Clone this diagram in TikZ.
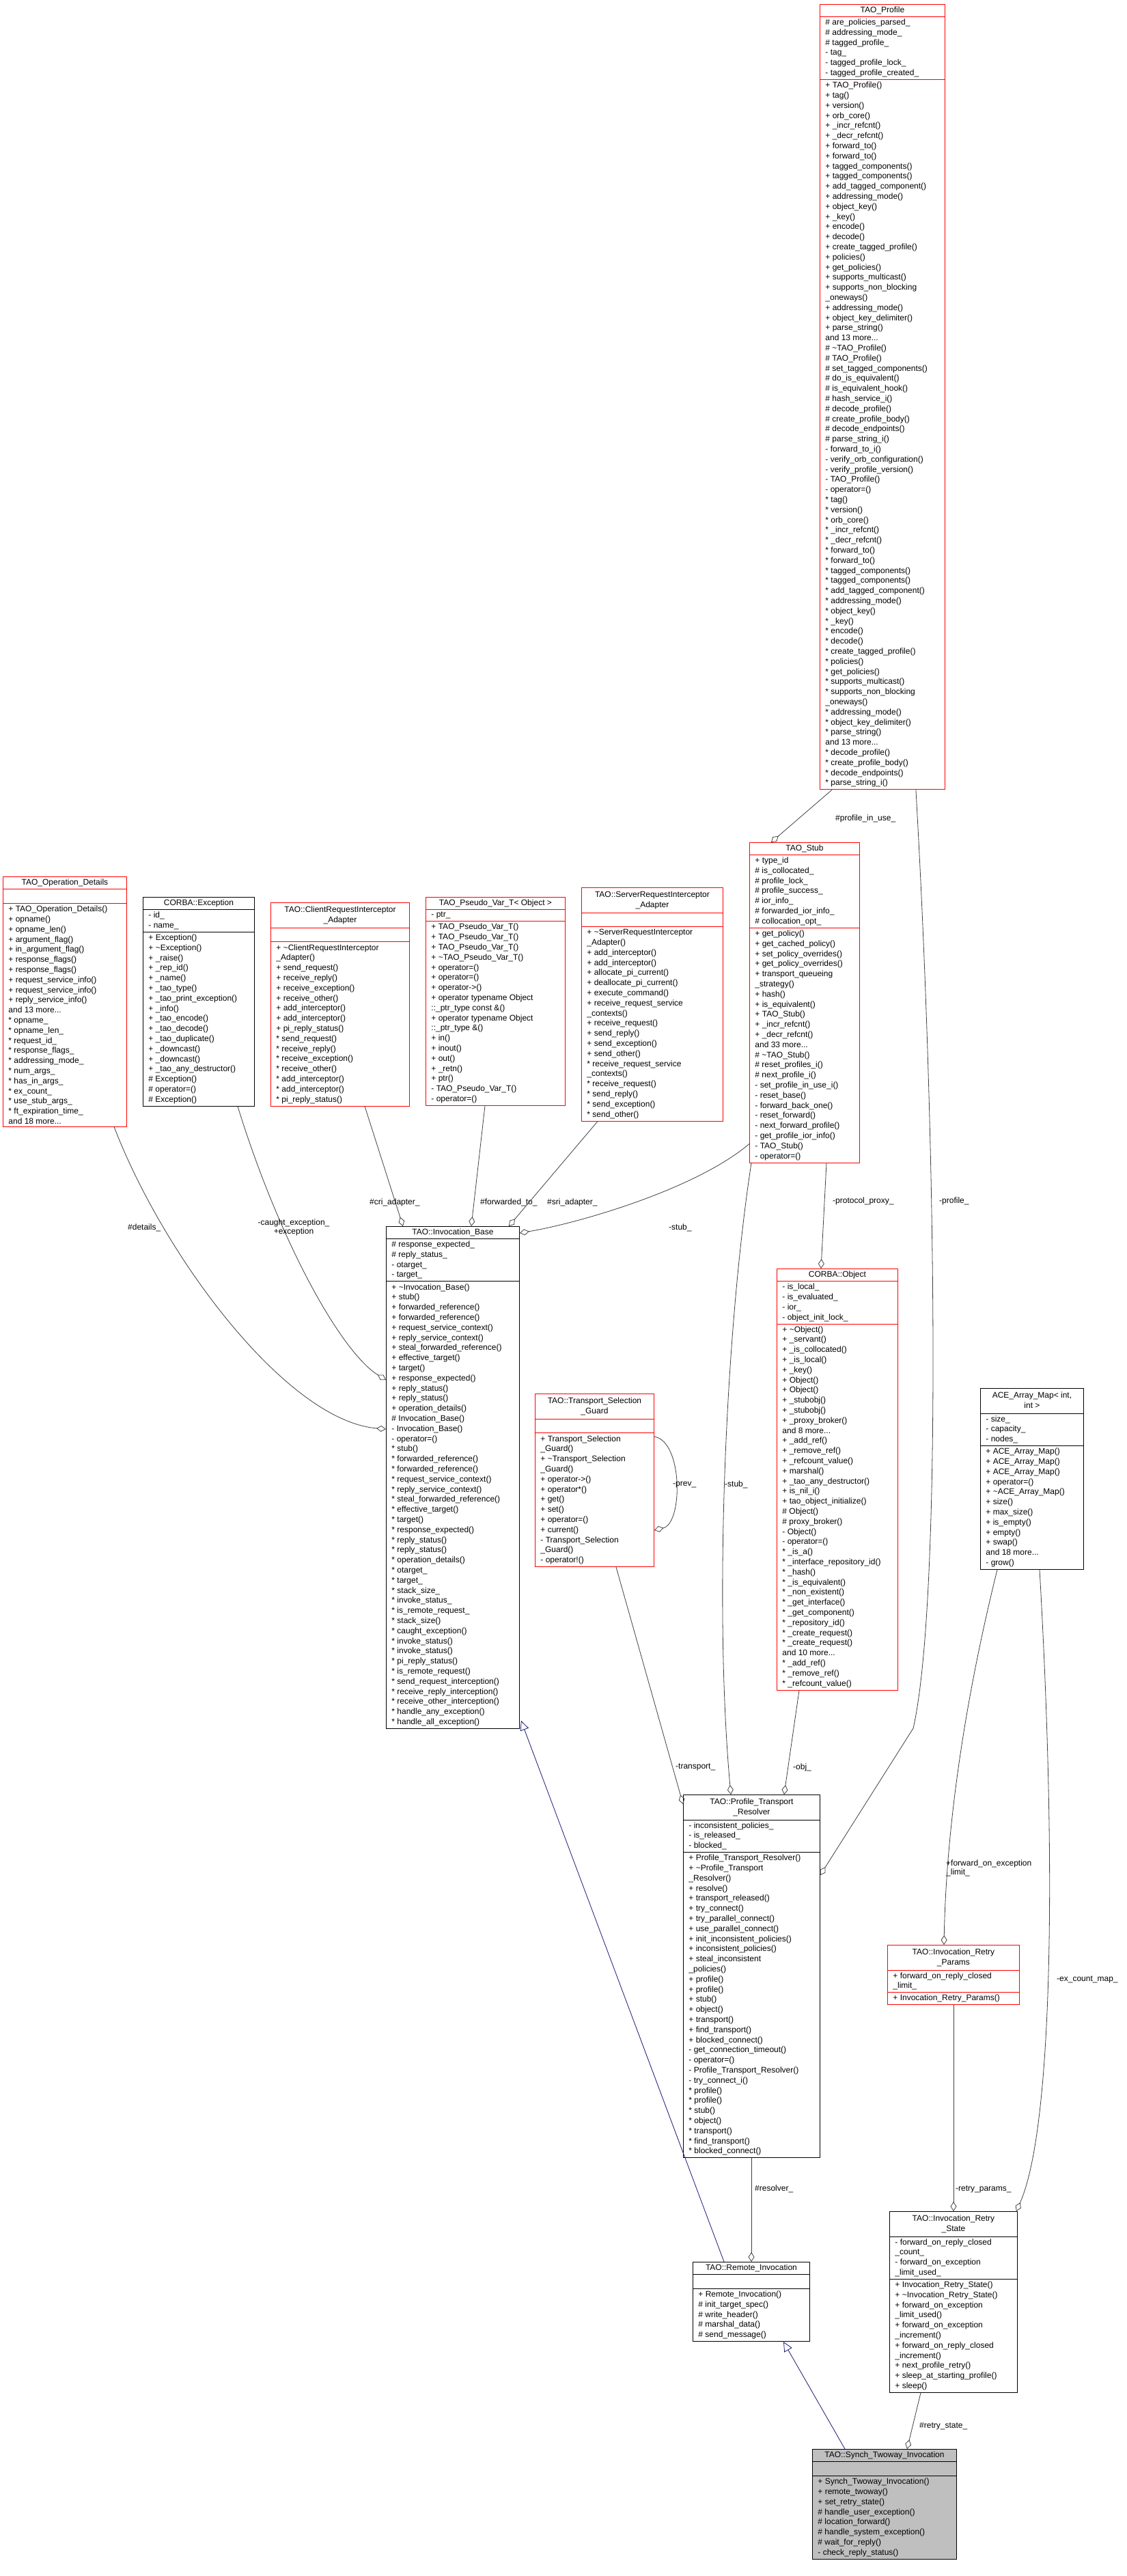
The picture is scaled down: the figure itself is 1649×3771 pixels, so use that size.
\documentclass[tikz,border=0pt]{standalone}
\usepackage{fontspec}
\setmainfont{Liberation Sans}
\usetikzlibrary{shapes.multipart,arrows.meta,calc}

\definecolor{doxred}{RGB}{255,0,0}
\definecolor{doxgray}{RGB}{191,191,191}
\definecolor{doxblue}{RGB}{25,25,112}
\definecolor{linegray}{RGB}{64,64,64}

% two line class titles
\newcommand{\ttl}[1]{\begin{tabular}{@{}c@{}}#1\end{tabular}}
\newcommand{\blank}{\rule{0pt}{14pt}}
\newcommand{\tld}{\textasciitilde{}}

% repeated member lists of TAO_Profile
\newcommand{\proflist}[1]{#1 tag()\\#1 version()\\#1 orb\_core()\\#1 \_incr\_refcnt()\\#1 \_decr\_refcnt()\\#1 forward\_to()\\#1 forward\_to()\\#1 tagged\_components()\\#1 tagged\_components()\\#1 add\_tagged\_component()\\#1 addressing\_mode()\\#1 object\_key()\\#1 \_key()\\#1 encode()\\#1 decode()\\#1 create\_tagged\_profile()\\#1 policies()\\#1 get\_policies()\\#1 supports\_multicast()\\#1 supports\_non\_blocking\\\_oneways()\\#1 addressing\_mode()\\#1 object\_key\_delimiter()\\#1 parse\_string()\\and 13 more...}

\tikzset{
  cls/.style={rectangle split, rectangle split parts=3, draw=black, line width=0.9pt,
    anchor=north west, align=left, rectangle split part align={center,left,left},
    inner xsep=8pt, inner ysep=3pt, font=\fontsize{12}{14.8}\selectfont},
  clsred/.style={cls, draw=doxred},
  clsfocus/.style={cls, fill=doxgray},
  agg/.style={draw=linegray, line width=0.8pt, -{Diamond[open,length=14pt,width=9pt]}},
  inh/.style={draw=doxblue, line width=0.8pt, -{Triangle[open,length=14pt,width=13pt]}},
  lbl/.style={font=\fontsize{12}{13.5}\selectfont, inner sep=1pt, anchor=west, align=left}
}

\begin{document}
\begin{tikzpicture}[x=1pt,y=-1pt]
\useasboundingbox (0,0) rectangle (1649,3771);

% classes
\node[clsred, minimum width=183pt] (prof) at (1200,6) {TAO\_Profile
  \nodepart{two}\# are\_policies\_parsed\_\\\# addressing\_mode\_\\\# tagged\_profile\_\\- tag\_\\- tagged\_profile\_lock\_\\- tagged\_profile\_created\_
  \nodepart{three}+ TAO\_Profile()\\\proflist{+}\\\# \tld TAO\_Profile()\\\# TAO\_Profile()\\\# set\_tagged\_components()\\\# do\_is\_equivalent()\\\# is\_equivalent\_hook()\\\# hash\_service\_i()\\\# decode\_profile()\\\# create\_profile\_body()\\\# decode\_endpoints()\\\# parse\_string\_i()\\- forward\_to\_i()\\- verify\_orb\_configuration()\\- verify\_profile\_version()\\- TAO\_Profile()\\- operator=()\\\proflist{*}\\* decode\_profile()\\* create\_profile\_body()\\* decode\_endpoints()\\* parse\_string\_i()};

\node[clsred, minimum width=181pt] (opdet) at (4,1283) {TAO\_Operation\_Details
  \nodepart{two}\blank
  \nodepart{three}+ TAO\_Operation\_Details()\\+ opname()\\+ opname\_len()\\+ argument\_flag()\\+ in\_argument\_flag()\\+ response\_flags()\\+ response\_flags()\\+ request\_service\_info()\\+ request\_service\_info()\\+ reply\_service\_info()\\and 13 more...\\* opname\_\\* opname\_len\_\\* request\_id\_\\* response\_flags\_\\* addressing\_mode\_\\* num\_args\_\\* has\_in\_args\_\\* ex\_count\_\\* use\_stub\_args\_\\* ft\_expiration\_time\_\\and 18 more...};

\node[cls, minimum width=163pt] (cexc) at (209,1313) {CORBA::Exception
  \nodepart{two}- id\_\\- name\_
  \nodepart{three}+ Exception()\\+ \tld Exception()\\+ \_raise()\\+ \_rep\_id()\\+ \_name()\\+ \_tao\_type()\\+ \_tao\_print\_exception()\\+ \_info()\\+ \_tao\_encode()\\+ \_tao\_decode()\\+ \_tao\_duplicate()\\+ \_downcast()\\+ \_downcast()\\+ \_tao\_any\_destructor()\\\# Exception()\\\# operator=()\\\# Exception()};

\node[clsred, minimum width=203pt] (cria) at (396,1321) {\ttl{TAO::ClientRequestInterceptor\\\_Adapter}
  \nodepart{two}\blank
  \nodepart{three}+ \tld ClientRequestInterceptor\\\_Adapter()\\+ send\_request()\\+ receive\_reply()\\+ receive\_exception()\\+ receive\_other()\\+ add\_interceptor()\\+ add\_interceptor()\\+ pi\_reply\_status()\\* send\_request()\\* receive\_reply()\\* receive\_exception()\\* receive\_other()\\* add\_interceptor()\\* add\_interceptor()\\* pi\_reply\_status()};

\node[clsred, minimum width=204pt] (pvar) at (623,1313) {TAO\_Pseudo\_Var\_T< Object >
  \nodepart{two}- ptr\_
  \nodepart{three}+ TAO\_Pseudo\_Var\_T()\\+ TAO\_Pseudo\_Var\_T()\\+ TAO\_Pseudo\_Var\_T()\\+ \tld TAO\_Pseudo\_Var\_T()\\+ operator=()\\+ operator=()\\+ operator->()\\+ operator typename Object\\::\_ptr\_type const \&()\\+ operator typename Object\\::\_ptr\_type \&()\\+ in()\\+ inout()\\+ out()\\+ \_retn()\\+ ptr()\\- TAO\_Pseudo\_Var\_T()\\- operator=()};

\node[clsred, minimum width=207pt] (sria) at (851,1299) {\ttl{TAO::ServerRequestInterceptor\\\_Adapter}
  \nodepart{two}\blank
  \nodepart{three}+ \tld ServerRequestInterceptor\\\_Adapter()\\+ add\_interceptor()\\+ add\_interceptor()\\+ allocate\_pi\_current()\\+ deallocate\_pi\_current()\\+ execute\_command()\\+ receive\_request\_service\\\_contexts()\\+ receive\_request()\\+ send\_reply()\\+ send\_exception()\\+ send\_other()\\* receive\_request\_service\\\_contexts()\\* receive\_request()\\* send\_reply()\\* send\_exception()\\* send\_other()};

\node[clsred, minimum width=161pt] (stub) at (1097,1233) {TAO\_Stub
  \nodepart{two}+ type\_id\\\# is\_collocated\_\\\# profile\_lock\_\\\# profile\_success\_\\\# ior\_info\_\\\# forwarded\_ior\_info\_\\\# collocation\_opt\_
  \nodepart{three}+ get\_policy()\\+ get\_cached\_policy()\\+ set\_policy\_overrides()\\+ get\_policy\_overrides()\\+ transport\_queueing\\\_strategy()\\+ hash()\\+ is\_equivalent()\\+ TAO\_Stub()\\+ \_incr\_refcnt()\\+ \_decr\_refcnt()\\and 33 more...\\\# \tld TAO\_Stub()\\\# reset\_profiles\_i()\\\# next\_profile\_i()\\- set\_profile\_in\_use\_i()\\- reset\_base()\\- forward\_back\_one()\\- reset\_forward()\\- next\_forward\_profile()\\- get\_profile\_ior\_info()\\- TAO\_Stub()\\- operator=()};

\node[cls, minimum width=195pt] (base) at (565,1795) {TAO::Invocation\_Base
  \nodepart{two}\# response\_expected\_\\\# reply\_status\_\\- otarget\_\\- target\_
  \nodepart{three}+ \tld Invocation\_Base()\\+ stub()\\+ forwarded\_reference()\\+ forwarded\_reference()\\+ request\_service\_context()\\+ reply\_service\_context()\\+ steal\_forwarded\_reference()\\+ effective\_target()\\+ target()\\+ response\_expected()\\+ reply\_status()\\+ reply\_status()\\+ operation\_details()\\\# Invocation\_Base()\\- Invocation\_Base()\\- operator=()\\* stub()\\* forwarded\_reference()\\* forwarded\_reference()\\* request\_service\_context()\\* reply\_service\_context()\\* steal\_forwarded\_reference()\\* effective\_target()\\* target()\\* response\_expected()\\* reply\_status()\\* reply\_status()\\* operation\_details()\\* otarget\_\\* target\_\\* stack\_size\_\\* invoke\_status\_\\* is\_remote\_request\_\\* stack\_size()\\* caught\_exception()\\* invoke\_status()\\* invoke\_status()\\* pi\_reply\_status()\\* is\_remote\_request()\\* send\_request\_interception()\\* receive\_reply\_interception()\\* receive\_other\_interception()\\* handle\_any\_exception()\\* handle\_all\_exception()};

\node[clsred, minimum width=174pt] (tsg) at (783,2040) {\ttl{TAO::Transport\_Selection\\\_Guard}
  \nodepart{two}\blank
  \nodepart{three}+ Transport\_Selection\\\_Guard()\\+ \tld Transport\_Selection\\\_Guard()\\+ operator->()\\+ operator*()\\+ get()\\+ set()\\+ operator=()\\+ current()\\- Transport\_Selection\\\_Guard()\\- operator!()};

\node[clsred, minimum width=177pt] (cobj) at (1137,1857) {CORBA::Object
  \nodepart{two}- is\_local\_\\- is\_evaluated\_\\- ior\_\\- object\_init\_lock\_
  \nodepart{three}+ \tld Object()\\+ \_servant()\\+ \_is\_collocated()\\+ \_is\_local()\\+ \_key()\\+ Object()\\+ Object()\\+ \_stubobj()\\+ \_stubobj()\\+ \_proxy\_broker()\\and 8 more...\\+ \_add\_ref()\\+ \_remove\_ref()\\+ \_refcount\_value()\\+ marshal()\\+ \_tao\_any\_destructor()\\+ is\_nil\_i()\\+ tao\_object\_initialize()\\\# Object()\\\# proxy\_broker()\\- Object()\\- operator=()\\* \_is\_a()\\* \_interface\_repository\_id()\\* \_hash()\\* \_is\_equivalent()\\* \_non\_existent()\\* \_get\_interface()\\* \_get\_component()\\* \_repository\_id()\\* \_create\_request()\\* \_create\_request()\\and 10 more...\\* \_add\_ref()\\* \_remove\_ref()\\* \_refcount\_value()};

\node[cls, minimum width=151pt] (acem) at (1435,2032) {\ttl{ACE\_Array\_Map< int,\\int >}
  \nodepart{two}- size\_\\- capacity\_\\- nodes\_
  \nodepart{three}+ ACE\_Array\_Map()\\+ ACE\_Array\_Map()\\+ ACE\_Array\_Map()\\+ operator=()\\+ \tld ACE\_Array\_Map()\\+ size()\\+ max\_size()\\+ is\_empty()\\+ empty()\\+ swap()\\and 18 more...\\- grow()};

\node[cls, minimum width=200pt] (ptres) at (1000,2627) {\ttl{TAO::Profile\_Transport\\\_Resolver}
  \nodepart{two}- inconsistent\_policies\_\\- is\_released\_\\- blocked\_
  \nodepart{three}+ Profile\_Transport\_Resolver()\\+ \tld Profile\_Transport\\\_Resolver()\\+ resolve()\\+ transport\_released()\\+ try\_connect()\\+ try\_parallel\_connect()\\+ use\_parallel\_connect()\\+ init\_inconsistent\_policies()\\+ inconsistent\_policies()\\+ steal\_inconsistent\\\_policies()\\+ profile()\\+ profile()\\+ stub()\\+ object()\\+ transport()\\+ find\_transport()\\+ blocked\_connect()\\- get\_connection\_timeout()\\- operator=()\\- Profile\_Transport\_Resolver()\\- try\_connect\_i()\\* profile()\\* profile()\\* stub()\\* object()\\* transport()\\* find\_transport()\\* blocked\_connect()};

\node[clsred, minimum width=193pt] (rparams) at (1299,2847) {\ttl{TAO::Invocation\_Retry\\\_Params}
  \nodepart{two}+ forward\_on\_reply\_closed\\\_limit\_
  \nodepart{three}+ Invocation\_Retry\_Params()};

\node[cls, minimum width=187pt] (rstate) at (1302,3237) {\ttl{TAO::Invocation\_Retry\\\_State}
  \nodepart{two}- forward\_on\_reply\_closed\\\_count\_\\- forward\_on\_exception\\\_limit\_used\_
  \nodepart{three}+ Invocation\_Retry\_State()\\+ \tld Invocation\_Retry\_State()\\+ forward\_on\_exception\\\_limit\_used()\\+ forward\_on\_exception\\\_increment()\\+ forward\_on\_reply\_closed\\\_increment()\\+ next\_profile\_retry()\\+ sleep\_at\_starting\_profile()\\+ sleep()};

\node[cls, minimum width=171pt] (rinv) at (1014,3311) {TAO::Remote\_Invocation
  \nodepart{two}\blank
  \nodepart{three}+ Remote\_Invocation()\\\# init\_target\_spec()\\\# write\_header()\\\# marshal\_data()\\\# send\_message()};

\node[clsfocus, minimum width=211pt] (synch) at (1189,3585) {TAO::Synch\_Twoway\_Invocation
  \nodepart{two}\blank
  \nodepart{three}+ Synch\_Twoway\_Invocation()\\+ remote\_twoway()\\+ set\_retry\_state()\\\# handle\_user\_exception()\\\# location\_forward()\\\# handle\_system\_exception()\\\# wait\_for\_reply()\\- check\_reply\_status()};

% usage relations
\draw[agg] ($(prof.south west)+(18,0)$) -- ($(stub.north west)+(32,0)$);
\node[lbl] (lpiu) at (1222,1198) {\#profile\_in\_use\_};
\draw[agg] ($(prof.south east)+(-43,0)$) .. controls (1372,1700) and (1378,2350) .. (1337,2530) -- ($(ptres.north east)+(0,118)$);
\node[lbl] (lprof) at (1374,1758) {-profile\_};
\draw[agg] ($(stub.south west)+(113,0)$) -- ($(cobj.north west)+(65,0)$);
\node[lbl] (lpp) at (1218,1758) {-protocol\_proxy\_};
\draw[agg] ($(stub.south west)+(0,-28)$) .. controls (1020,1740) and (850,1790) .. ($(base.north east)+(0,10)$);
\node[lbl] (lsb) at (978,1797) {-stub\_};
\draw[agg] ($(stub.south west)+(3,0)$) .. controls (1062,1950) and (1045,2350) .. ($(ptres.north west)+(70,0)$);
\node[lbl] (lsr) at (1060,2173) {-stub\_};
\draw[agg] ($(cobj.south west)+(33,0)$) -- ($(ptres.north west)+(148,0)$);
\node[lbl] (lobj) at (1160,2587) {-obj\_};
\draw[agg] ($(tsg.south west)+(119,0)$) -- ($(ptres.north west)+(0,14)$);
\node[lbl] (ltr) at (988,2587) {-transport\_};
\draw[agg] ($(tsg.north east)+(0,63)$) .. controls (1000,2110) and (1000,2230) .. ($(tsg.north east)+(0,200)$);
\node[lbl] (lprev) at (984,2173) {-prev\_};
\draw[agg] ($(ptres.south west)+(100,0)$) -- ($(rinv.north west)+(86,0)$);
\node[lbl] (lres) at (1104,3204) {\#resolver\_};
\draw[agg] ($(rparams.south west)+(97,0)$) -- ($(rstate.north west)+(94,0)$);
\node[lbl] (lrp) at (1398,3205) {-retry\_params\_};
\draw[agg] ($(acem.south west)+(87,0)$) .. controls (1548,2750) and (1540,3120) .. ($(rstate.north east)+(-2,0)$);
\node[lbl] (lex) at (1546,2898) {-ex\_count\_map\_};
\draw[agg] ($(acem.south west)+(25,0)$) .. controls (1405,2520) and (1385,2700) .. ($(rparams.north west)+(83,0)$);
\node[lbl] (lfe) at (1384,2735) {+forward\_on\_exception\\\_limit\_};
\draw[agg] ($(rstate.south west)+(46,0)$) -- ($(synch.north west)+(139,0)$);
\node[lbl] (lrs) at (1345,3552) {\#retry\_state\_};
\draw[agg] ($(opdet.south west)+(163,0)$) .. controls (240,1840) and (420,2080) .. ($(base.north west)+(0,297)$);
\node[lbl] (ldet) at (186,1797) {\#details\_};
\draw[agg] ($(cexc.south west)+(139,0)$) .. controls (410,1820) and (500,1980) .. ($(base.north west)+(0,225)$);
\node[lbl, align=center, anchor=center] (lexc) at (430,1797) {-caught\_exception\_\\+exception};
\draw[agg] ($(cria.south west)+(138,0)$) -- ($(base.north west)+(25,0)$);
\node[lbl] (lcri) at (540,1760) {\#cri\_adapter\_};
\draw[agg] ($(pvar.south west)+(87,0)$) -- ($(base.north west)+(125,0)$);
\node[lbl] (lfwd) at (702,1760) {\#forwarded\_to\_};
\draw[agg] ($(sria.south west)+(24,0)$) -- ($(base.north west)+(180,0)$);
\node[lbl] (lsri) at (800,1760) {\#sri\_adapter\_};

% inheritance
\draw[inh] ($(rinv.north west)+(46,0)$) -- ($(base.south east)+(2,-12)$);
\draw[inh] ($(synch.north west)+(48,0)$) -- ($(rinv.south west)+(133,0)$);
\end{tikzpicture}
\end{document}
